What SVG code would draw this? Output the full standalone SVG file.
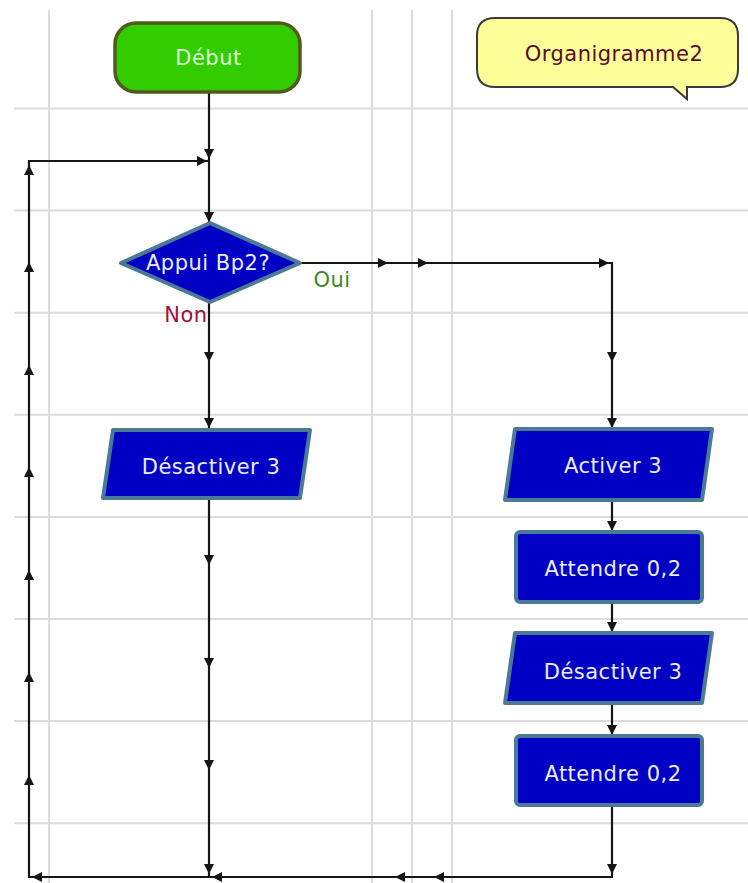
<svg xmlns="http://www.w3.org/2000/svg" xmlns:xlink="http://www.w3.org/1999/xlink" width="748" height="883" viewBox="0 0 748 883">
<style>
.grid{stroke:#dcdcdc;stroke-width:2;fill:none}
.wire{stroke:#151515;stroke-width:2.2;fill:none}
.arr{fill:#151515}
.blue{fill:#0000c4;stroke:#4b7a96;stroke-width:4;stroke-linejoin:round}
.t{font-family:"DejaVu Sans",Verdana,sans-serif;font-size:21px;letter-spacing:0.5px;text-anchor:middle}
.tw{fill:#ececff}
</style>
<defs>
<path id="ad" d="M-5,-10 L5,-10 L0,0 Z"/>
<path id="au" d="M-5,10 L5,10 L0,0 Z"/>
<path id="ar" d="M-10,-5 L-10,5 L0,0 Z"/>
<path id="al" d="M10,-5 L10,5 L0,0 Z"/>
</defs>
<rect width="748" height="883" fill="#ffffff"/>
<g id="grid">
<path class="grid" d="M49,10V883M372,10V883M412,10V883M452,10V883"/>
<path class="grid" d="M14,108.5H748M14,210.6H748M14,312.7H748M14,414.8H748M14,516.9H748M14,619H748M14,721.1H748M14,823.2H748"/>
</g>
<g id="connectors">
<path class="wire" d="M209,92V223M209,302V430M209,498V877M300,263H612V429M612,500V532M612,602V633M612,703V736M612,805V877H29V161H209"/>
<g class="arr">
<use xlink:href="#ad" x="209" y="159"/>
<use xlink:href="#ar" x="207" y="161"/>
<use xlink:href="#ad" x="209" y="222"/>
<use xlink:href="#ad" x="209" y="362"/>
<use xlink:href="#ad" x="209" y="428"/>
<use xlink:href="#ad" x="209" y="565"/>
<use xlink:href="#ad" x="209" y="668"/>
<use xlink:href="#ad" x="209" y="770"/>
<use xlink:href="#ad" x="209" y="874"/>
<use xlink:href="#ar" x="388" y="263"/>
<use xlink:href="#ar" x="428" y="263"/>
<use xlink:href="#ar" x="609" y="263"/>
<use xlink:href="#ad" x="612" y="362"/>
<use xlink:href="#ad" x="612" y="428"/>
<use xlink:href="#ad" x="612" y="531"/>
<use xlink:href="#ad" x="612" y="632"/>
<use xlink:href="#ad" x="612" y="735"/>
<use xlink:href="#ad" x="612" y="874"/>
<use xlink:href="#al" x="434" y="877"/>
<use xlink:href="#al" x="395" y="877"/>
<use xlink:href="#al" x="212" y="877"/>
<use xlink:href="#al" x="32" y="877"/>
<use xlink:href="#au" x="29" y="165"/>
<use xlink:href="#au" x="29" y="262"/>
<use xlink:href="#au" x="29" y="365"/>
<use xlink:href="#au" x="29" y="467"/>
<use xlink:href="#au" x="29" y="570"/>
<use xlink:href="#au" x="29" y="672"/>
<use xlink:href="#au" x="29" y="775"/>
</g>
</g>
<g id="debut">
<rect x="115" y="23" width="185" height="69" rx="21" fill="#33cc00" stroke="#4f5a1c" stroke-width="3.5"/>
<text class="t" x="208.5" y="65" fill="#dcffd4">Début</text>
</g>
<g id="comment">
<path d="M495,18H720Q738,18 738,36V69Q738,87 720,87H687V99L673,87H495Q477,87 477,69V36Q477,18 495,18Z" fill="#ffff99" stroke="#3a3a3a" stroke-width="2"/>
<text class="t" x="614" y="61" fill="#5a0c26">Organigramme2</text>
</g>
<g id="test">
<polygon class="blue" points="121,263 210,223 300,263 210,302"/>
<text class="t tw" x="208" y="270">Appui Bp2?</text>
<text class="t" x="332" y="287" fill="#3a8a2a">Oui</text>
<text class="t" x="186" y="322" fill="#a01040">Non</text>
</g>
<g id="desactiver1">
<polygon class="blue" points="113,430 310,430 300,498 103,498"/>
<text class="t tw" x="211" y="474">Désactiver 3</text>
</g>
<g id="activer">
<polygon class="blue" points="515,429 712,429 702,500 505,500"/>
<text class="t tw" x="613" y="473">Activer 3</text>
</g>
<g id="attendre1">
<rect class="blue" x="516" y="532" width="186" height="70" rx="4"/>
<text class="t tw" x="613" y="576">Attendre 0,2</text>
</g>
<g id="desactiver2">
<polygon class="blue" points="515,633 712,633 702,703 505,703"/>
<text class="t tw" x="613" y="679">Désactiver 3</text>
</g>
<g id="attendre2">
<rect class="blue" x="516" y="736" width="186" height="69" rx="4"/>
<text class="t tw" x="613" y="781">Attendre 0,2</text>
</g>
</svg>
